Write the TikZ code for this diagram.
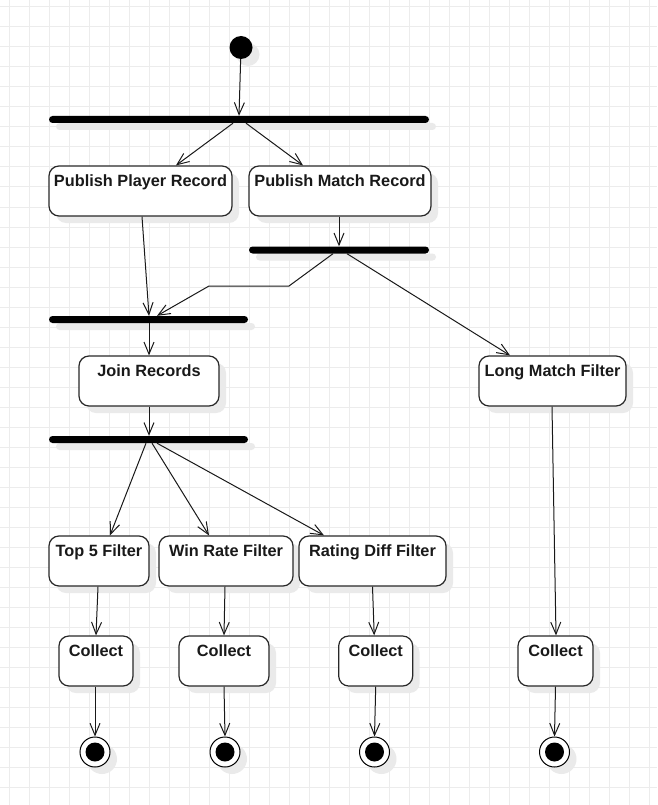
\documentclass[tikz,border=0pt]{standalone}
\usepackage{fontspec}
\setmainfont{Liberation Sans}
\usetikzlibrary{arrows.meta,shadows,calc}
\definecolor{gridc}{RGB}{236,236,236}
\definecolor{shadc}{RGB}{234,234,234}
\definecolor{edgec}{RGB}{40,40,40}
\tikzset{
  shd/.style={drop shadow={shadow xshift=7pt,shadow yshift=-7pt,fill=shadc,opacity=1}},
  actbox/.style={draw=edgec,line width=1.2pt,rounded corners=10pt,fill=white,shd,inner sep=0pt,minimum height=50pt},
  forkbar/.style={fill=black,draw=none,rounded corners=3.5pt,inner sep=0pt,minimum height=7pt,shd},
  lbl/.style={font=\fontsize{16.3}{19}\selectfont\bfseries,text=black!90,inner sep=0pt,anchor=base},
  startdot/.style={circle,fill=black,inner sep=0pt,minimum size=23pt,shd},
  endring/.style={circle,draw=black,line width=1pt,fill=white,inner sep=0pt,minimum size=30pt,shd},
  enddot/.style={circle,fill=black,inner sep=0pt,minimum size=19pt},
  arr/.style={draw=black!90,line width=1pt,-{Straight Barb[length=12pt,width=10pt,line width=1pt]}},
}
\begin{document}
\begin{tikzpicture}[x=1pt,y=-1pt]
\useasboundingbox (0,0) rectangle (657,805);
\fill[white] (0,0) rectangle (657,805);
% grid
\foreach \gx in {9.5,29.5,...,657} \draw[gridc,line width=1pt] (\gx,0) -- (\gx,805);
\foreach \gy in {7,27,...,805} \draw[gridc,line width=1pt] (0,\gy) -- (657,\gy);

% start
\node[startdot] (s0) at (241,47.5) {};
% bars
\node[forkbar,minimum width=380pt] (bar1) at (239,119.5) {};
\node[forkbar,minimum width=180pt] (bar2) at (339,250) {};
\node[forkbar,minimum width=199pt] (bar3) at (148.5,319.5) {};
\node[forkbar,minimum width=199pt] (bar4) at (148.5,439.5) {};
% activity boxes
\node[actbox,minimum width=183pt] (ppr) at (140.5,191) {};
\node[actbox,minimum width=182pt] (pmr) at (340,191) {};
\node[actbox,minimum width=140pt] (join) at (149,381) {};
\node[actbox,minimum width=147pt] (long) at (552.5,381) {};
\node[actbox,minimum width=100pt] (top5) at (99,561) {};
\node[actbox,minimum width=134pt] (win) at (226,561) {};
\node[actbox,minimum width=147pt] (rate) at (372.5,561) {};
\node[actbox,minimum width=74pt] (c1) at (96,661) {};
\node[actbox,minimum width=90pt] (c2) at (224,661) {};
\node[actbox,minimum width=74pt] (c3) at (375.7,661) {};
\node[actbox,minimum width=75pt] (c4) at (555.5,661) {};
% labels
\node[lbl] (tppr) at ($(ppr.north)+(0,21)$) {Publish Player Record};
\node[lbl] (tpmr) at ($(pmr.north)+(0,21)$) {Publish Match Record};
\node[lbl] (tjoin) at ($(join.north)+(0,21)$) {Join Records};
\node[lbl] (tlong) at ($(long.north)+(0,21)$) {Long Match Filter};
\node[lbl] (ttop5) at ($(top5.north)+(0,21)$) {Top 5 Filter};
\node[lbl] (twin) at ($(win.north)+(0,21)$) {Win Rate Filter};
\node[lbl] (trate) at ($(rate.north)+(0,21)$) {Rating Diff Filter};
\node[lbl] (tc1) at ($(c1.north)+(0,21)$) {Collect};
\node[lbl] (tc2) at ($(c2.north)+(0,21)$) {Collect};
\node[lbl] (tc3) at ($(c3.north)+(0,21)$) {Collect};
\node[lbl] (tc4) at ($(c4.north)+(0,21)$) {Collect};
% end states
\foreach \n/\ex in {e1/95,e2/225,e3/374.5,e4/554.5}{
  \node[endring] (\n) at (\ex,752) {};
  \node[enddot] (\n d) at (\ex,752) {};
}

% connectors
\draw[arr] (s0) -- (bar1.north);
\draw[arr] ([xshift=-6pt]bar1.south) -- ([xshift=35.5pt]ppr.north);
\draw[arr] ([xshift=7pt]bar1.south) -- ([xshift=-37pt]pmr.north);
\draw[arr] ([xshift=1.5pt]ppr.south) -- ([xshift=0.5pt]bar3.north);
\draw[arr] ([xshift=-1pt]pmr.south) -- (bar2.north);
\draw[arr] ([xshift=-6pt]bar2.south) -- (289,286) -- (209,286) -- ([xshift=8.5pt]bar3.north);
\draw[arr] ([xshift=8pt]bar2.south) -- ([xshift=-42.5pt]long.north);
\draw[arr] ([xshift=0.5pt]bar3.south) -- (join.north);
\draw[arr] (join.south) -- ([xshift=0.5pt]bar4.north);
\draw[arr] ([xshift=-2.5pt]bar4.south) -- ([xshift=11pt]top5.north);
\draw[arr] ([xshift=3.5pt]bar4.south) -- ([xshift=-17pt]win.north);
\draw[arr] ([xshift=8.5pt]bar4.south) -- ([xshift=-48.5pt]rate.north);
\draw[arr] ([xshift=-0.5pt]long.south) -- ([xshift=0.5pt]c4.north);
\draw[arr] ([xshift=-1pt]top5.south) -- (c1.north);
\draw[arr] ([xshift=-1pt]win.south) -- (c2.north);
\draw[arr] (rate.south) -- ([xshift=-1.5pt]c3.north);
\draw[arr] ([xshift=-1pt]c1.south) -- (e1.north);
\draw[arr] (c2.south) -- (e2.north);
\draw[arr] (c3.south) -- (e3.north);
\draw[arr] (c4.south) -- (e4.north);
\end{tikzpicture}
\end{document}
